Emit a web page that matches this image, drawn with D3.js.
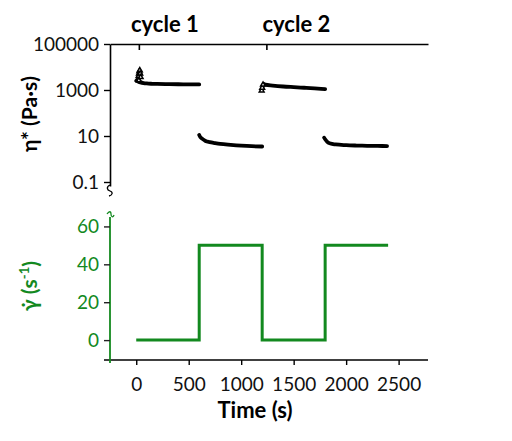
<!DOCTYPE html>
<html>
<head>
<meta charset="utf-8">
<script src="https://cdn.jsdelivr.net/npm/d3@7"></script>
<style>
  body { margin: 0; background: #fff; }
  svg { font-family: Lato, "Open Sans", sans-serif; }
</style>
</head>
<body>
<svg id="chart" width="512" height="441"></svg>
<script>
// viscosity (Pa·s) vs time (s), one array per step
const seg1 = [[0, 2500], [20, 2300], [40, 2150], [70, 2000], [100, 1920], [150, 1860],
  [200, 1830], [300, 1800], [400, 1780], [500, 1760], [600, 1750]];
const seg2 = [[600, 11], [610, 9], [630, 7.5], [660, 6.1], [700, 5.4], [750, 4.9],
  [800, 4.5], [900, 4.1], [1000, 3.8], [1100, 3.6], [1200, 3.5]];
const seg3 = [[1200, 1150], [1215, 1850], [1230, 1700], [1300, 1560], [1400, 1420],
  [1500, 1330], [1600, 1250], [1700, 1170], [1800, 1100]];
const seg4 = [[1790, 8.5], [1800, 7.2], [1820, 5.6], [1850, 4.7], [1900, 4.3], [2000, 4.0],
  [2100, 3.85], [2200, 3.75], [2300, 3.7], [2390, 3.65]];
// scattered start-up points
const spikes = [[18, 3000], [22, 4000], [26, 5200], [30, 6500], [34, 7200], [38, 5200],
  [42, 3600], [25, 2600], [1195, 950], [1200, 1250], [1208, 1700]];

// shear rate steps
const rateSteps = [[0, 0], [600, 50], [1200, 0], [1800, 50], [2400, 50]];

const timeTicks = [0, 500, 1000, 1500, 2000, 2500];
const etaTicks = [100000, 1000, 10, 0.1];
const rateTicks = [0, 20, 40, 60];
const cycleTimes = [25, 1240];
const cycleLabels = ["cycle 1", "cycle 2"];

const green = "#13891f";
const svg = d3.select("#chart");

const x = d3.scaleLinear().domain([-250, 2780]).range([110, 428]);
const yEta = d3.scaleLog().domain([0.067, 100000]).range([186, 44]);
const yRate = d3.scaleLinear().domain([-10.5, 65.5]).range([360, 216]);

// ---- top panel ----
const topG = svg.append("g");

topG.append("g")
  .attr("transform", `translate(110,0)`)
  .call(d3.axisLeft(yEta).tickValues(etaTicks).tickFormat(d3.format("")).tickSize(6).tickSizeOuter(0))
  .call(g => g.select(".domain").attr("stroke-width", 1.6))
  .call(g => g.selectAll(".tick line").attr("stroke-width", 1.4))
  .call(g => g.selectAll(".tick text").attr("font-size", 19).attr("font-family", "Lato").attr("fill", "#111").attr("dx", "-0.1em"));

topG.append("g")
  .attr("transform", `translate(0,44)`)
  .call(d3.axisBottom(x).tickValues(cycleTimes).tickFormat("").tickSize(6).tickSizeOuter(0))
  .call(g => g.select(".domain").attr("stroke-width", 1.6))
  .call(g => g.selectAll(".tick line").attr("stroke-width", 1.6));

topG.selectAll(".cycle")
  .data(cycleLabels)
  .join("text")
  .attr("x", (d, i) => x(cycleTimes[i]) + [26, 30][i])
  .attr("y", 32)
  .attr("text-anchor", "middle")
  .attr("font-size", 22)
  .attr("font-weight", "bold")
  .text(d => d);

const etaLine = d3.line().x(d => x(d[0])).y(d => yEta(d[1])).curve(d3.curveMonotoneX);
topG.selectAll(".seg")
  .data([seg1, seg2, seg3, seg4])
  .join("path")
  .attr("d", etaLine)
  .attr("fill", "none")
  .attr("stroke", "#000")
  .attr("stroke-width", 3.8)
  .attr("stroke-linecap", "round");

topG.selectAll(".spike")
  .data(spikes)
  .join("path")
  .attr("transform", d => `translate(${x(d[0])},${yEta(d[1])})`)
  .attr("d", d3.symbol(d3.symbolTriangle, 10))
  .attr("fill", "#fff")
  .attr("stroke", "#000")
  .attr("stroke-width", 1.5);

// axis break on left axis
topG.append("path")
  .attr("d", "M110,185 C106,187 107,190 110,191 C113,192 113,195 109,196")
  .attr("fill", "none").attr("stroke", "#000").attr("stroke-width", 1.3);

topG.append("text")
  .attr("transform", `translate(37,${114}) rotate(-90)`)
  .attr("text-anchor", "middle")
  .attr("font-size", 21)
  .attr("font-weight", "bold")
  .text("η* (Pa·s)");

// ---- bottom panel ----
const botG = svg.append("g");

botG.append("g")
  .attr("transform", `translate(0,360)`)
  .call(d3.axisBottom(x).tickValues(timeTicks).tickFormat(d3.format("d")).tickSize(5).tickSizeOuter(0))
  .call(g => g.select(".domain").attr("stroke-width", 1.6).attr("d", "M104,0H428"))
  .call(g => g.selectAll(".tick line").attr("stroke-width", 1.4))
  .call(g => g.selectAll(".tick text").attr("font-size", 19).attr("font-family", "Lato").attr("fill", "#111").attr("dy", "1.2em"));

botG.append("g")
  .attr("transform", `translate(110,0)`)
  .call(d3.axisLeft(yRate).tickValues(rateTicks).tickSize(6).tickSizeOuter(0))
  .call(g => g.select(".domain").attr("stroke", green).attr("stroke-width", 1.8).attr("d", "M0,217V363"))
  .call(g => g.selectAll(".tick line").attr("stroke", "#222").attr("stroke-width", 1.4))
  .call(g => g.selectAll(".tick text").attr("font-size", 19).attr("font-family", "Lato").attr("fill", green).attr("dx", "-0.1em"));

botG.append("path")
  .attr("d", "M107,214 C109,211 111,211 111,214 C111,217 113,218 114,215")
  .attr("fill", "none").attr("stroke", green).attr("stroke-width", 1.3);

botG.append("path")
  .datum(rateSteps)
  .attr("d", d3.line().x(d => x(d[0])).y(d => yRate(d[1])).curve(d3.curveStepAfter))
  .attr("fill", "none")
  .attr("stroke", green)
  .attr("stroke-width", 3)
  .attr("stroke-linejoin", "miter");

const rateLabel = botG.append("text")
  .attr("transform", `translate(37,${286}) rotate(-90)`)
  .attr("text-anchor", "middle")
  .attr("font-size", 21)
  .attr("font-weight", "bold")
  .attr("fill", green);
rateLabel.append("tspan").text("γ\u0307 (s");
rateLabel.append("tspan").attr("font-size", 13).attr("dy", "-0.6em").text("-1");
rateLabel.append("tspan").attr("dy", "0.4em").text(")");

svg.append("text")
  .attr("x", 255)
  .attr("y", 418)
  .attr("text-anchor", "middle")
  .attr("font-size", 22)
  .attr("font-weight", "bold")
  .text("Time (s)");
</script>
</body>
</html>
